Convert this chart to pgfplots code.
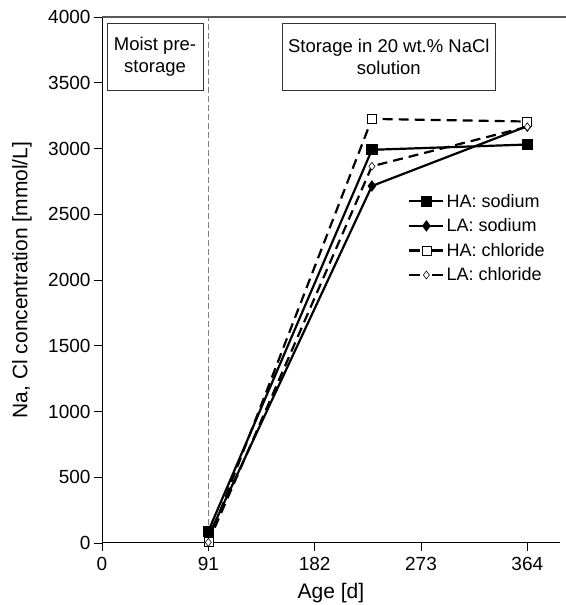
\documentclass[border=0pt]{standalone}
\usepackage{pgfplots}
\pgfplotsset{compat=1.18}
\usepackage{fontspec}
\setmainfont{Liberation Sans}

\begin{document}
\begin{tikzpicture}
\begin{axis}[
  name=main,
  scale only axis,
  width=458pt, height=526pt,
  xmin=0, xmax=392,
  ymin=0, ymax=4000,
  axis lines=left,
  axis line style={-, line width=1pt},
  xtick={0,91,182,273,364},
  ytick={0,500,1000,1500,2000,2500,3000,3500,4000},
  tick align=outside,
  major tick length=8pt,
  tick style={black, line width=0.8pt},
  /pgf/number format/assume math mode=true,
  /pgf/number format/set thousands separator={},
  tick label style={font=\fontsize{19}{22}\selectfont},
  xticklabel style={yshift=-3pt},
  xlabel={Age [d]},
  ylabel={Na, Cl concentration [mmol/L]},
  label style={font=\fontsize{21}{24}\selectfont},
  xlabel style={at={(axis description cs:0.5,0)}, anchor=center, yshift=-50pt},
  ylabel style={at={(axis description cs:-0.175,0.5)}, anchor=center},
  clip=false,
  legend style={draw=none, fill=none, at={(axis cs:262,2670)}, anchor=north west,
    inner sep=0pt, font=\fontsize{18}{21}\selectfont, row sep=6pt,
    /tikz/every even column/.append style={column sep=2pt}},
  legend cell align=left,
  legend image code/.code={%
    \draw[mark repeat=2, mark phase=2] plot coordinates {(0pt,0pt) (17pt,0pt) (34pt,0pt)};},
]
% phase boundary and the top rule
\draw[gray, line width=1pt, dash pattern=on 6pt off 3pt] (axis cs:91,0) -- (axis cs:91,4000);
\draw[gray!70!black, line width=1.2pt] (axis cs:0,4000) -- (axis cs:400,4000);

% phase annotations
\draw[black!80, line width=0.8pt, fill=white] (axis cs:4.3,3445) rectangle (axis cs:86.5,3954);
\node[align=center, font=\fontsize{18.5}{22}\selectfont] at (axis cs:45.4,3700) {Moist pre-\\storage};
\draw[black!80, line width=0.8pt, fill=white] (axis cs:154,3445) rectangle (axis cs:337,3954);
\node[align=center, font=\fontsize{18.5}{22}\selectfont] at (axis cs:245.5,3700) {Storage in 20 wt.\% NaCl\\solution};

\addplot[black, line width=2.2pt, mark=square*, mark size=4.5pt, mark options={solid, fill=black}]
  coordinates {(91,90) (231,2990) (364,3030)};
\addlegendentry{HA: sodium}
\addplot[black, line width=2.2pt, mark=diamond*, mark size=4pt, mark options={solid, fill=black}]
  coordinates {(91,50) (231,2715) (364,3170)};
\addlegendentry{LA: sodium}
\addplot[black, line width=2.2pt, dash pattern=on 10pt off 6pt, mark=square*, mark size=4.5pt, mark options={solid, fill=white, line width=0.6pt},
  legend image code/.code={%
    \draw[dash pattern=on 11pt off 12pt on 11pt, mark repeat=2, mark phase=2] plot coordinates {(0pt,0pt) (17pt,0pt) (34pt,0pt)};}]
  coordinates {(91,10) (231,3225) (364,3205)};
\addlegendentry{HA: chloride}
\addplot[black, line width=2.2pt, dash pattern=on 10pt off 6pt, mark=diamond*, mark size=4pt, mark options={solid, fill=white, line width=0.6pt},
  legend image code/.code={%
    \draw[dash pattern=on 11pt off 12pt on 11pt, mark repeat=2, mark phase=2] plot coordinates {(0pt,0pt) (17pt,0pt) (34pt,0pt)};}]
  coordinates {(91,5) (231,2865) (364,3165)};
\addlegendentry{LA: chloride}
\end{axis}
\pgfresetboundingbox
\path (main.south west) ++(-102pt,-62pt) (main.north east) ++(5pt,17pt);
\end{tikzpicture}
\end{document}
